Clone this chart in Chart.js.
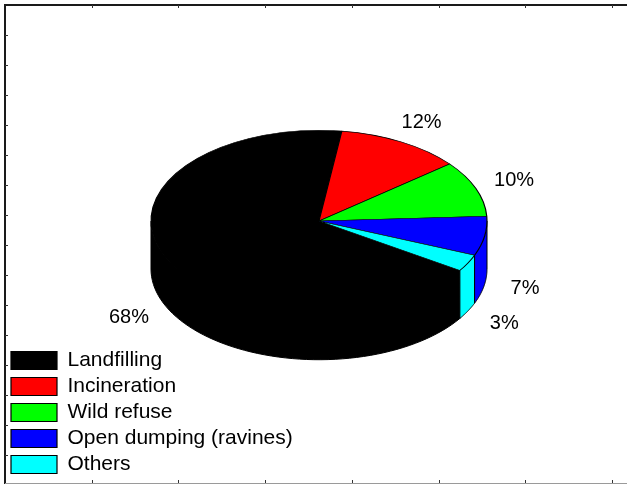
<!DOCTYPE html>
<html>
<head>
<meta charset="utf-8">
<script src="https://cdn.jsdelivr.net/npm/chart.js@4/dist/chart.umd.min.js"></script>
<style>
  html, body { margin: 0; padding: 0; background: #ffffff; }
  #wrap { position: relative; width: 627px; height: 486px; }
</style>
</head>
<body>
<div id="wrap"><canvas id="c" width="627" height="486"></canvas></div>
<script>
// Waste disposal methods and their shares (%)
const categories = ['Landfilling', 'Incineration', 'Wild refuse', 'Open dumping (ravines)', 'Others'];
const shares = [68, 12, 10, 7, 3];
const sliceColors = ['#000000', '#ff0000', '#00ff00', '#0000ff', '#00ffff'];
const valueLabels = shares.map(v => v + '%');

const FONT = '"Liberation Sans", Arial, sans-serif';

// Tilted-disc projection of the flat pie
const TILT = 0.54;      // vertical squash of the top face
const DEPTH = 48;       // thickness of the disc in px
const SHIFT_X = 2.5;    // move of the disc centre relative to the chart area centre
const SHIFT_Y = -19;

function discCentre(arc) {
  return { cx: arc.x + SHIFT_X, cy: arc.y + SHIFT_Y, R: arc.outerRadius, ry: arc.outerRadius * TILT };
}

const tiltedPie = {
  id: 'tiltedPie',
  beforeDatasetsDraw(chart) {
    const ctx = chart.ctx;
    const arcs = chart.getDatasetMeta(0).data;
    const { cx, cy, R, ry } = discCentre(arcs[0]);
    const N = 60;

    // side walls: only the front half of the rim is visible
    ctx.save();
    ctx.lineWidth = 1;
    ctx.strokeStyle = '#000000';
    ctx.lineJoin = 'round';
    arcs.forEach(arc => {
      for (const base of [-2 * Math.PI, 0, 2 * Math.PI]) {
        const s = Math.max(arc.startAngle, base);
        const e = Math.min(arc.endAngle, base + Math.PI);
        if (e <= s) continue;
        const at = k => s + (e - s) * k / N;

        // fill, with the upper edge tucked just under the top face
        ctx.beginPath();
        for (let k = 0; k <= N; k++) {
          const t = at(k);
          const px = cx + R * Math.cos(t), py = cy + (ry - 2) * Math.sin(t);
          if (k === 0) ctx.moveTo(px, py); else ctx.lineTo(px, py);
        }
        for (let k = N; k >= 0; k--) {
          const t = at(k);
          ctx.lineTo(cx + R * Math.cos(t), cy + ry * Math.sin(t) + DEPTH);
        }
        ctx.closePath();
        ctx.fillStyle = arc.options.backgroundColor;
        ctx.fill();

        // outline: two vertical edges and the lower rim
        ctx.beginPath();
        ctx.moveTo(cx + R * Math.cos(s), cy + ry * Math.sin(s));
        for (let k = 0; k <= N; k++) {
          const t = at(k);
          ctx.lineTo(cx + R * Math.cos(t), cy + ry * Math.sin(t) + DEPTH);
        }
        ctx.lineTo(cx + R * Math.cos(e), cy + ry * Math.sin(e));
        ctx.stroke();
      }
    });
    ctx.restore();

    // top face: the library's arcs, squashed into an ellipse
    ctx.save();
    ctx.translate(cx, cy);
    ctx.scale(1, TILT);
    ctx.translate(-arcs[0].x, -arcs[0].y);
  },
  afterDatasetsDraw(chart) {
    const ctx = chart.ctx;
    ctx.restore();

    // percentage labels outside the rim
    const arcs = chart.getDatasetMeta(0).data;
    const { cx, cy, R, ry } = discCentre(arcs[0]);
    ctx.save();
    ctx.fillStyle = '#000000';
    ctx.font = '20px ' + FONT;
    ctx.textAlign = 'center';
    ctx.textBaseline = 'middle';
    arcs.forEach((arc, i) => {
      const m = (arc.startAngle + arc.endAngle) / 2;
      const s = Math.sin(m);
      const x = cx + (R + 41) * Math.cos(m);
      const y = s > 0 ? cy + (ry + 26) * s + DEPTH : cy + (ry + 22) * s;
      ctx.fillText(valueLabels[i], x, y);
    });
    ctx.restore();
  }
};

// plot frame with small tick marks
const frame = {
  id: 'frame',
  afterDraw(chart) {
    const ctx = chart.ctx;
    ctx.save();
    ctx.strokeStyle = '#1a1a1a';
    ctx.lineWidth = 2;
    ctx.beginPath();
    ctx.moveTo(627, 5); ctx.lineTo(5, 5); ctx.lineTo(5, 484);
    ctx.stroke();
    ctx.strokeStyle = '#9a9a9a';
    ctx.lineWidth = 1;
    ctx.beginPath();
    ctx.moveTo(5, 483.5); ctx.lineTo(627, 483.5);
    ctx.stroke();
    ctx.strokeStyle = '#333333';
    ctx.lineWidth = 1;
    ctx.beginPath();
    for (let i = 1; i <= 7; i++) {
      const x = Math.round(5 + i * 86.7) + 0.5;
      ctx.moveTo(x, 5); ctx.lineTo(x, 8);
      ctx.moveTo(x, 483); ctx.lineTo(x, 480);
    }
    for (let j = 1; j <= 15; j++) {
      const y = 5 + j * 30 + 0.5;
      ctx.moveTo(5, y); ctx.lineTo(8, y);
    }
    ctx.stroke();
    ctx.restore();
  }
};

new Chart(document.getElementById('c'), {
  type: 'pie',
  data: {
    labels: categories,
    datasets: [{
      data: shares,
      backgroundColor: sliceColors,
      borderColor: '#000000',
      borderWidth: 1.2,
      clip: false
    }]
  },
  options: {
    responsive: false,
    animation: false,
    events: [],
    rotation: 123,
    radius: 168,
    layout: { padding: { left: 6, right: 0, top: 0, bottom: 6 } },
    plugins: {
      tooltip: { enabled: false },
      legend: {
        position: 'chartArea',
        align: 'end',
        labels: {
          boxWidth: 46,
          boxHeight: 18,
          padding: 5,
          color: '#000000',
          font: { family: FONT, size: 21 }
        }
      }
    }
  },
  plugins: [tiltedPie, frame]
});
</script>
</body>
</html>
